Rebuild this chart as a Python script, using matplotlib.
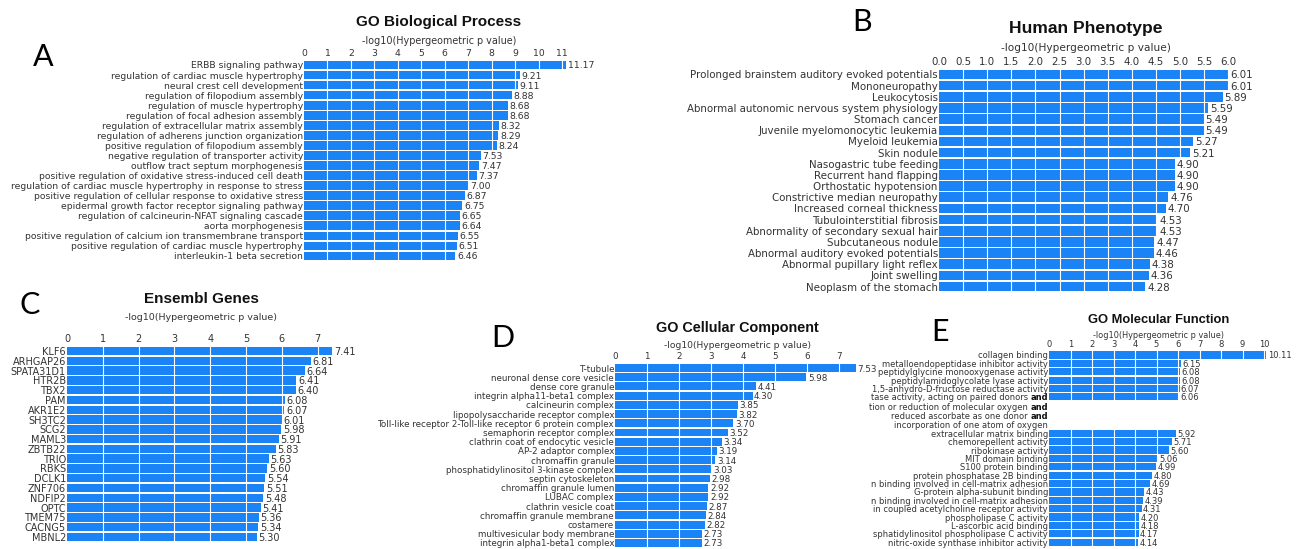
import matplotlib
matplotlib.use('Agg')
import matplotlib.pyplot as plt
import numpy as np

plt.rcParams['font.family'] = ['DejaVu Sans']

# ---- data ----
bp_labels = ['ERBB signaling pathway',
             'regulation of cardiac muscle hypertrophy',
             'neural crest cell development',
             'regulation of filopodium assembly',
             'regulation of muscle hypertrophy',
             'regulation of focal adhesion assembly',
             'regulation of extracellular matrix assembly',
             'regulation of adherens junction organization',
             'positive regulation of filopodium assembly',
             'negative regulation of transporter activity',
             'outflow tract septum morphogenesis',
             'positive regulation of oxidative stress-induced cell death',
             'regulation of cardiac muscle hypertrophy in response to stress',
             'positive regulation of cellular response to oxidative stress',
             'epidermal growth factor receptor signaling pathway',
             'regulation of calcineurin-NFAT signaling cascade',
             'aorta morphogenesis',
             'positive regulation of calcium ion transmembrane transport',
             'positive regulation of cardiac muscle hypertrophy',
             'interleukin-1 beta secretion']
bp_vals = [11.17, 9.21, 9.11, 8.88, 8.68, 8.68, 8.32, 8.29, 8.24, 7.53,
           7.47, 7.37, 7.00, 6.87, 6.75, 6.65, 6.64, 6.55, 6.51, 6.46]

hp_labels = ['Prolonged brainstem auditory evoked potentials',
             'Mononeuropathy',
             'Leukocytosis',
             'Abnormal autonomic nervous system physiology',
             'Stomach cancer',
             'Juvenile myelomonocytic leukemia',
             'Myeloid leukemia',
             'Skin nodule',
             'Nasogastric tube feeding',
             'Recurrent hand flapping',
             'Orthostatic hypotension',
             'Constrictive median neuropathy',
             'Increased corneal thickness',
             'Tubulointerstitial fibrosis',
             'Abnormality of secondary sexual hair',
             'Subcutaneous nodule',
             'Abnormal auditory evoked potentials',
             'Abnormal pupillary light reflex',
             'Joint swelling',
             'Neoplasm of the stomach']
hp_vals = [6.01, 6.01, 5.89, 5.59, 5.49, 5.49, 5.27, 5.21, 4.90, 4.90,
           4.90, 4.76, 4.70, 4.53, 4.53, 4.47, 4.46, 4.38, 4.36, 4.28]

eg_labels = ['KLF6', 'ARHGAP26', 'SPATA31D1', 'HTR2B', 'TBX2', 'PAM', 'AKR1E2',
             'SH3TC2', 'SCG2', 'MAML3', 'ZBTB22', 'TRIO', 'RBKS', 'DCLK1',
             'ZNF706', 'NDFIP2', 'OPTC', 'TMEM75', 'CACNG5', 'MBNL2']
eg_vals = [7.41, 6.81, 6.64, 6.41, 6.40, 6.08, 6.07, 6.01, 5.98, 5.91,
           5.83, 5.63, 5.60, 5.54, 5.51, 5.48, 5.41, 5.36, 5.34, 5.30]

cc_labels = ['T-tubule',
             'neuronal dense core vesicle',
             'dense core granule',
             'integrin alpha11-beta1 complex',
             'calcineurin complex',
             'lipopolysaccharide receptor complex',
             'Toll-like receptor 2-Toll-like receptor 6 protein complex',
             'semaphorin receptor complex',
             'clathrin coat of endocytic vesicle',
             'AP-2 adaptor complex',
             'chromaffin granule',
             'phosphatidylinositol 3-kinase complex',
             'septin cytoskeleton',
             'chromaffin granule lumen',
             'LUBAC complex',
             'clathrin vesicle coat',
             'chromaffin granule membrane',
             'costamere',
             'multivesicular body membrane',
             'integrin alpha1-beta1 complex']
cc_vals = [7.53, 5.98, 4.41, 4.30, 3.85, 3.82, 3.70, 3.52, 3.34, 3.19,
           3.14, 3.03, 2.98, 2.92, 2.92, 2.87, 2.84, 2.82, 2.73, 2.73]

# the long term is cut at the left edge in the source figure; '*' marks a bold "and"
mf_labels = ['collagen binding',
             'metalloendopeptidase inhibitor activity',
             'peptidylglycine monooxygenase activity',
             'peptidylamidoglycolate lyase activity',
             '1,5-anhydro-D-fructose reductase activity',
             'tase activity, acting on paired donors*\n'
             'tion or reduction of molecular oxygen*\n'
             'reduced ascorbate as one donor*\n'
             'incorporation of one atom of oxygen',
             'extracellular matrix binding',
             'chemorepellent activity',
             'ribokinase activity',
             'MIT domain binding',
             'S100 protein binding',
             'protein phosphatase 2B binding',
             'n binding involved in cell-matrix adhesion',
             'G-protein alpha-subunit binding',
             'n binding involved in cell-matrix adhesion',
             'in coupled acetylcholine receptor activity',
             'phospholipase C activity',
             'L-ascorbic acid binding',
             'sphatidylinositol phospholipase C activity',
             'nitric-oxide synthase inhibitor activity']
mf_vals = [10.11, 6.15, 6.08, 6.08, 6.07, 6.06, 5.92, 5.71, 5.60, 5.06,
           4.99, 4.80, 4.69, 4.43, 4.39, 4.31, 4.20, 4.18, 4.17, 4.14]

W, H = 1304, 549
BLUE = '#1a84f6'
TXT = '#333333'


def row_positions(labels, line_step):
    # each label takes one row, extra lines push the following rows down
    pos = []
    p = 0.0
    for lab in labels:
        pos.append(p)
        p += 1 + lab.count('\n') * line_step
    return np.array(pos)


def label_line(ax, y, line, fs):
    ytr = ax.get_yaxis_transform()
    if line.endswith('*'):
        t = ax.text(-0.004, y, 'and', transform=ytr, ha='right',
                    va='center_baseline', fontsize=fs, color='#111111',
                    fontweight='bold')
        ax.annotate(line[:-1], xy=(0, 0), xycoords=t, xytext=(-2, 0),
                    textcoords='offset points', ha='right', va='bottom',
                    fontsize=fs, color=TXT)
    else:
        ax.text(-0.004, y, line, transform=ytr, ha='right',
                va='center_baseline', fontsize=fs, color=TXT)


def panel(fig, labels, vals, x0, unit, xmax, ticks, y0, step, fs,
          title, tfs, ty, sub_fs, sy, tick_fmt='{:g}', line_step=1.0):
    pos = row_positions(labels, line_step)
    top = y0 - step / 2
    bottom = y0 + step * (pos[-1] + 0.5)
    ax = fig.add_axes([x0 / W, 1 - bottom / H, unit * xmax / W,
                       (bottom - top) / H])
    ax.barh(pos, vals, height=0.86, color=BLUE, zorder=1)
    ax.set_xlim(0, xmax)
    ax.set_ylim(pos[-1] + 0.5, -0.5)
    for t in ticks[1:]:
        ax.axvline(t, color='white', lw=0.8, zorder=2)
    ax.xaxis.tick_top()
    ax.set_xticks(ticks)
    ax.set_xticklabels([tick_fmt.format(t) for t in ticks])
    ax.tick_params(axis='x', length=0, pad=1.5, labelsize=fs, colors=TXT)
    ax.set_yticks([])
    for s in ax.spines.values():
        s.set_visible(False)
    for p, lab, v in zip(pos, labels, vals):
        for k, line in enumerate(lab.split('\n')):
            label_line(ax, p + k * line_step, line, fs)
        ax.text(v + xmax * 0.006, p, '{:.2f}'.format(v), ha='left',
                va='center_baseline', fontsize=fs, color=TXT)
    cx = (x0 + unit * xmax / 2) / W
    fig.text(cx, 1 - ty / H, title, ha='center', va='center',
             fontsize=tfs, fontweight='bold', color='#111111',
             family='Liberation Sans')
    fig.text(cx, 1 - sy / H, '-log10(Hypergeometric p value)', ha='center',
             va='center', fontsize=sub_fs, color=TXT)
    return ax


fig = plt.figure(figsize=(W / 100, H / 100), dpi=100)

panel(fig, bp_labels, bp_vals, 304, 23.45, 11.5, list(range(0, 12)),
      65, 10.05, 6.7, 'GO Biological Process', 11, 22, 6.9, 41)

panel(fig, hp_labels, hp_vals, 939, 48.2, 6.1, list(np.arange(0, 6.01, 0.5)),
      74.5, 11.16, 7.4, 'Human Phenotype', 12.6, 28, 7.6, 48, tick_fmt='{:.1f}')

panel(fig, eg_labels, eg_vals, 67, 35.8, 7.5, list(range(0, 8)),
      351, 9.79, 7, 'Ensembl Genes', 11, 299, 6.8, 318)

panel(fig, cc_labels, cc_vals, 615, 32.0, 7.65, list(range(0, 8)),
      368, 9.21, 6.3, 'GO Cellular Component', 10.4, 328, 6.6, 346)

panel(fig, mf_labels, mf_vals, 1049, 21.5, 10.2, list(range(0, 11)),
      355, 8.37, 6.0, 'GO Molecular Function', 9.3, 320, 5.9, 336,
      line_step=1.12)

for letter, x, y in [('A', 43, 57), ('B', 862, 22), ('C', 30, 305),
                     ('D', 503, 338), ('E', 940, 332)]:
    fig.text(x / W, 1 - y / H, letter, ha='center', va='center',
             fontsize=22, family='Lato', color='black')

fig.savefig('out.png', dpi=100)
